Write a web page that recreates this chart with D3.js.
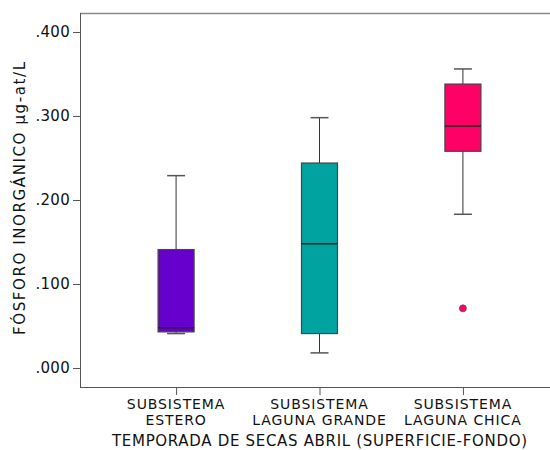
<!DOCTYPE html>
<html><head><meta charset="utf-8">
<script src="https://cdn.jsdelivr.net/npm/d3@7"></script>
<style>body{margin:0;background:#fff}svg{display:block}</style>
</head><body>
<svg id="c" width="550" height="450"></svg>
<script>
const categories = [["SUBSISTEMA","ESTERO"],["SUBSISTEMA","LAGUNA GRANDE"],["SUBSISTEMA","LAGUNA CHICA"]];
const whiskerLow  = [0.041, 0.018, 0.183];
const q1          = [0.043, 0.041, 0.258];
const median      = [0.048, 0.148, 0.288];
const q3          = [0.141, 0.244, 0.338];
const whiskerHigh = [0.229, 0.298, 0.356];
const outliers    = [[], [], [0.071]];
const colors      = ["#6600CC", "#00A3A0", "#FF0066"];
const yTicks      = [0, 0.1, 0.2, 0.3, 0.4];
const yTitle = "FÓSFORO INORGÁNICO µg-at/L";
const xTitle = "TEMPORADA DE SECAS ABRIL (SUPERFICIE-FONDO)";

const svg = d3.select("#c");
const L = 80, T = 13, R = 559, B = 387;
const font = "'DejaVu Sans', Verdana, sans-serif";
const fs = 15, ls = 0.3;
const y = d3.scaleLinear().domain([-0.0226, 0.4226]).range([B, T]);
const x = d3.scalePoint().domain(d3.range(categories.length)).range([L, R]).padding(0.67);

// frame
svg.append("line").attr("x1", L).attr("x2", 550).attr("y1", T + 0.5).attr("y2", T + 0.5).attr("stroke", "#888").attr("stroke-width", 1.5);

// y axis
const ya = svg.append("g").attr("transform", `translate(${L},0)`)
  .call(d3.axisLeft(y).tickValues(yTicks).tickSize(7).tickPadding(3).tickFormat(d => d3.format(".3f")(d).replace(/^0/, "")));
ya.select(".domain").attr("d", `M0.5,${T}V${B}`).attr("stroke", "#555");
ya.selectAll(".tick line").attr("stroke", "#555");
ya.selectAll("text").attr("font-family", font).attr("font-size", fs).attr("letter-spacing", ls).attr("fill", "#111");

// x axis
const xa = svg.append("g").attr("transform", `translate(0,${B})`)
  .call(d3.axisBottom(x).tickSize(8).tickFormat(""));
xa.select(".domain").attr("d", `M${L},0.5H550`).attr("stroke", "#555");
xa.selectAll(".tick line").attr("stroke", "#555");
categories.forEach((lines, i) => {
  lines.forEach((s, k) => svg.append("text").attr("x", x(i)).attr("y", 409 + k * 16.4).attr("text-anchor", "middle")
    .attr("font-family", font).attr("font-size", 14).attr("letter-spacing", 0.9).attr("fill", "#111").text(s));
});

// titles
svg.append("text").attr("x", 112).attr("y", 446)
  .attr("textLength", 415).attr("lengthAdjust", "spacing")
  .attr("font-family", font).attr("font-size", fs).attr("fill", "#111").text(xTitle);
svg.append("text").attr("transform", `translate(25,335) rotate(-90)`)
  .attr("textLength", 273).attr("lengthAdjust", "spacing")
  .attr("font-family", font).attr("font-size", fs).attr("fill", "#111").text(yTitle);

// boxes
const bw = 36, cw = 18;
categories.forEach((c, i) => {
  const cx = x(i);
  const g = svg.append("g");
  g.append("line").attr("x1", cx).attr("x2", cx).attr("y1", y(whiskerHigh[i])).attr("y2", y(q3[i])).attr("stroke", "#333");
  g.append("line").attr("x1", cx).attr("x2", cx).attr("y1", y(q1[i])).attr("y2", y(whiskerLow[i])).attr("stroke", "#333");
  g.append("line").attr("x1", cx - cw/2).attr("x2", cx + cw/2).attr("y1", y(whiskerHigh[i])).attr("y2", y(whiskerHigh[i])).attr("stroke", "#555").attr("stroke-width", 1.5);
  g.append("line").attr("x1", cx - cw/2).attr("x2", cx + cw/2).attr("y1", y(whiskerLow[i])).attr("y2", y(whiskerLow[i])).attr("stroke", "#555").attr("stroke-width", 1.5);
  g.append("rect").attr("x", cx - bw/2).attr("width", bw).attr("y", y(q3[i])).attr("height", y(q1[i]) - y(q3[i]))
    .attr("fill", colors[i]).attr("stroke", "#444").attr("stroke-width", 1.2);
  g.append("line").attr("x1", cx - bw/2).attr("x2", cx + bw/2).attr("y1", y(median[i])).attr("y2", y(median[i])).attr("stroke", "#222").attr("stroke-width", 1.5);
  outliers[i].forEach(v => g.append("circle").attr("cx", cx).attr("cy", y(v)).attr("r", 3.5).attr("fill", colors[i]).attr("stroke", "#555").attr("stroke-width", 0.8));
});
</script>
</body></html>
